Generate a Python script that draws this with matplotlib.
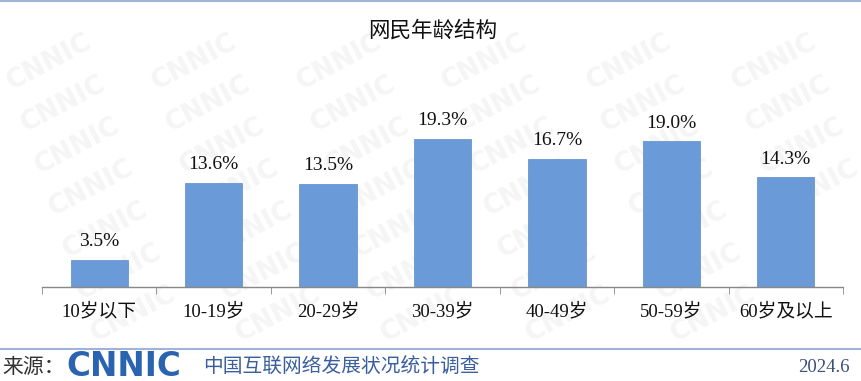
import matplotlib
matplotlib.use("Agg")
import matplotlib.pyplot as plt
import numpy as np

categories = ["10岁以下", "10-19岁", "20-29岁", "30-39岁", "40-49岁", "50-59岁", "60岁及以上"]
values = [3.5, 13.6, 13.5, 19.3, 16.7, 19.0, 14.3]
value_labels = ["3.5%", "13.6%", "13.5%", "19.3%", "16.7%", "19.0%", "14.3%"]
title = "网民年龄结构"
source_prefix = "来源："
source_logo = "CNNIC"
source_text = "中国互联网络发展状况统计调查"
date_text = "2024.6"

W, H = 862, 381
fig = plt.figure(figsize=(W / 100, H / 100), dpi=100)
fig.patch.set_facecolor("white")

MIX = ["Liberation Serif", "Noto Sans CJK SC"]

# watermark layer (only fully visible copies)
wm = fig.add_axes([0, 0, 1, 1], zorder=0)
wm.set_xlim(0, W)
wm.set_ylim(H, 0)
wm.axis("off")
for row in range(-2, 12):
    for col in range(-1, 8):
        x = col * 145 + row * 14 + 35
        y = row * 42 + 20
        if 45 < x < W - 45 and 25 < y < 335:
            wm.text(x, y, "CNNIC", fontsize=19, fontweight="bold", color="#f5f5f5",
                    rotation=28, ha="center", va="center", family="DejaVu Sans")

# plot axes: x 42..843 px, baseline at y=287
left = 42 / W
right = 843 / W
bottom = (H - 287) / H
ymax = 22.0
px_per_unit = 7.66
top_px = 287 - ymax * px_per_unit
ax = fig.add_axes([left, bottom, right - left, (287 - top_px) / H], zorder=2)
ax.patch.set_alpha(0)
x = np.arange(len(categories))
bars = ax.bar(x, values, width=0.5, color="#6a9bd8", edgecolor="#5a8ac6", linewidth=0.5)
ax.set_xlim(-0.5, len(categories) - 0.5)
ax.set_ylim(0, ymax)
for xi, v, lab in zip(x, values, value_labels):
    ax.annotate(lab, (xi, v), xytext=(0, 7), textcoords="offset points",
                ha="center", va="bottom", fontsize=14, family=MIX, color="#111111",
                annotation_clip=False)
for s in ["top", "right", "left"]:
    ax.spines[s].set_visible(False)
ax.spines["bottom"].set_color("#888888")
ax.spines["bottom"].set_linewidth(1.0)
ax.set_yticks([])
ax.set_xticks(x)
ax.set_xticklabels(categories, fontsize=13.5, family=MIX, color="#111111")
ax.tick_params(axis="x", length=0, pad=11)
ax.set_xticks(np.arange(-0.5, len(categories)), minor=True)
ax.tick_params(axis="x", which="minor", length=5, direction="out", color="#888888")

# overlay for texts and lines
ov = fig.add_axes([0, 0, 1, 1], zorder=3)
ov.set_xlim(0, W)
ov.set_ylim(H, 0)
ov.axis("off")
ov.patch.set_alpha(0)
ov.plot([0, W], [0.8, 0.8], color="#9fb4d8", lw=1.5)
ov.plot([0, W], [349, 349], color="#9fb4d8", lw=1.5)
ov.text(433, 31, title, ha="center", va="center", fontsize=15.5, family="Noto Sans CJK SC",
        fontweight="medium", color="#111111")
ov.text(2, 367, source_prefix, ha="left", va="center", fontsize=15,
        family="Noto Sans CJK SC", color="#333333")
ov.text(66, 366, source_logo, ha="left", va="center", fontsize=23.5, fontweight="heavy",
        family="DejaVu Sans", color="#2a64b0")
ov.text(203, 367, source_text, ha="left", va="center", fontsize=14.2,
        family="Noto Sans CJK SC", color="#3a5f9e")
ov.text(850, 368, date_text, ha="right", va="center", fontsize=13.5,
        family="Liberation Serif", color="#3a4f7a")

fig.savefig("out.png", dpi=100)
